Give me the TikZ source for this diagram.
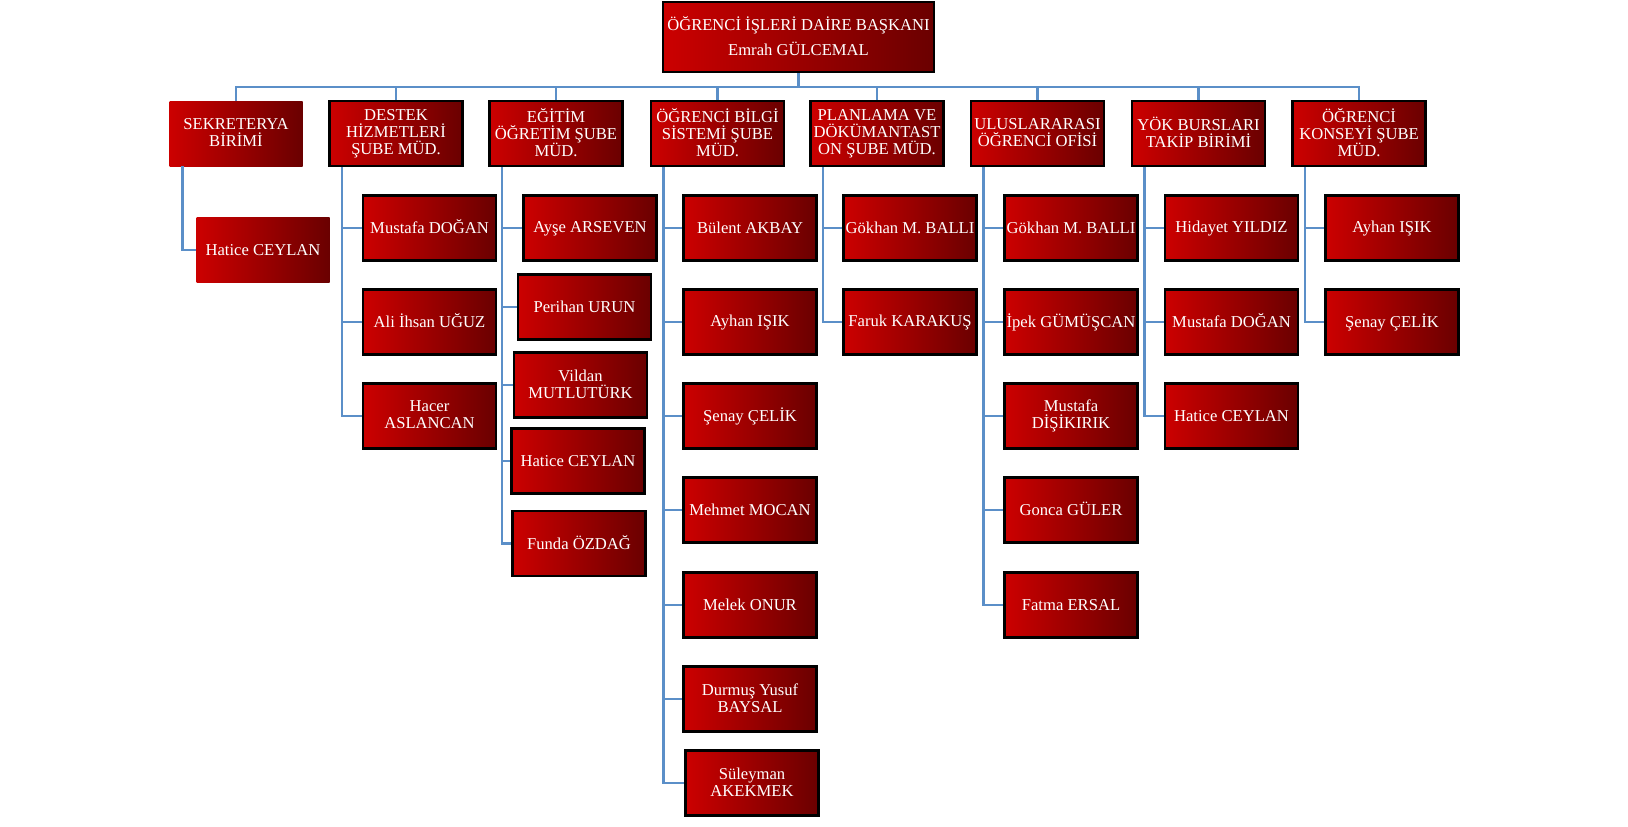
\documentclass[tikz,border=0pt]{standalone}
\usepackage{fontspec}
\setmainfont{Liberation Serif}
\usepackage{tikz}
\pgfdeclarelayer{edgelayer}
\pgfdeclarelayer{nodelayer}
\pgfsetlayers{edgelayer,nodelayer,main}
\definecolor{hexcolor0xcc0000}{rgb}{0.800,0.000,0.000}
\definecolor{hexcolor0x6a0000}{rgb}{0.416,0.000,0.000}
\definecolor{hexcolor0x5b8fc8}{rgb}{0.357,0.561,0.784}
\definecolor{myblack}{rgb}{0.000,0.000,0.000}
\definecolor{mywhite}{rgb}{1.000,1.000,1.000}
\newcommand{\boxstrut}{\rule[-1.4pt]{0pt}{9pt}}
\tikzstyle{plainbox}=[rectangle,left color=hexcolor0xcc0000,right color=hexcolor0x6a0000,text=mywhite,align=center,minimum width=2.66cm,minimum height=1.30cm,inner sep=1pt,font=\fontsize{9.45}{9.7}\selectfont,execute at begin node=\boxstrut,execute at end node=\boxstrut]
\tikzstyle{unit}=[plainbox,draw=myblack,line width=0.05cm]
\tikzstyle{head}=[unit,minimum width=5.42cm,minimum height=1.40cm]
\tikzstyle{link}=[draw=hexcolor0x5b8fc8,line width=0.05cm]

\begin{document}
\begin{tikzpicture}
	\useasboundingbox (0,0) rectangle (32.56,-16.54);
	%\begin{pgfonlayer}{nodelayer}
		\node [style=head] (0) at (15.97,-0.74) {ÖĞRENCİ İŞLERİ DAİRE BAŞKANI\\[4.5pt]Emrah GÜLCEMAL};
		\node [style=plainbox] (1) at (4.72,-2.67) {SEKRETERYA\\BİRİMİ};
		\node [style=unit] (2) at (7.92,-2.67) {DESTEK\\HİZMETLERİ\\ŞUBE MÜD.};
		\node [style=unit] (3) at (11.12,-2.67) {EĞİTİM\\ÖĞRETİM ŞUBE\\MÜD.};
		\node [style=unit] (4) at (14.35,-2.67) {ÖĞRENCİ BİLGİ\\SİSTEMİ ŞUBE\\MÜD.};
		\node [style=unit] (5) at (17.54,-2.67) {PLANLAMA VE\\DÖKÜMANTAST\\ON ŞUBE MÜD.};
		\node [style=unit] (6) at (20.75,-2.67) {ULUSLARARASI\\ÖĞRENCİ OFİSİ};
		\node [style=unit] (7) at (23.97,-2.67) {YÖK BURSLARI\\TAKİP BİRİMİ};
		\node [style=unit] (8) at (27.18,-2.67) {ÖĞRENCİ\\KONSEYİ ŞUBE\\MÜD.};
		\node [style=plainbox] (10) at (5.26,-5.00) {Hatice CEYLAN};
		\node [style=unit] (20) at (8.59,-4.56) {Mustafa DOĞAN};
		\node [style=unit] (21) at (8.59,-6.44) {Ali İhsan UĞUZ};
		\node [style=unit] (22) at (8.59,-8.32) {Hacer\\ASLANCAN};
		\node [style=unit] (30) at (11.80,-4.56) {Ayşe ARSEVEN};
		\node [style=unit] (31) at (11.69,-6.14) {Perihan URUN};
		\node [style=unit] (32) at (11.61,-7.70) {Vildan\\MUTLUTÜRK};
		\node [style=unit] (33) at (11.56,-9.22) {Hatice CEYLAN};
		\node [style=unit] (34) at (11.58,-10.87) {Funda ÖZDAĞ};
		\node [style=unit] (40) at (15.00,-4.56) {Bülent AKBAY};
		\node [style=unit] (41) at (15.00,-6.44) {Ayhan IŞIK};
		\node [style=unit] (42) at (15.00,-8.32) {Şenay ÇELİK};
		\node [style=unit] (43) at (15.00,-10.20) {Mehmet MOCAN};
		\node [style=unit] (44) at (15.00,-12.10) {Melek ONUR};
		\node [style=unit] (45) at (15.00,-13.98) {Durmuş Yusuf\\BAYSAL};
		\node [style=unit] (46) at (15.04,-15.66) {Süleyman\\AKEKMEK};
		\node [style=unit] (50) at (18.20,-4.56) {Gökhan M. BALLI};
		\node [style=unit] (51) at (18.20,-6.44) {Faruk KARAKUŞ};
		\node [style=unit] (60) at (21.42,-4.56) {Gökhan M. BALLI};
		\node [style=unit] (61) at (21.42,-6.44) {İpek GÜMÜŞCAN};
		\node [style=unit] (62) at (21.42,-8.32) {Mustafa\\DİŞİKIRIK};
		\node [style=unit] (63) at (21.42,-10.20) {Gonca GÜLER};
		\node [style=unit] (64) at (21.42,-12.10) {Fatma ERSAL};
		\node [style=unit] (70) at (24.63,-4.56) {Hidayet YILDIZ};
		\node [style=unit] (71) at (24.63,-6.44) {Mustafa DOĞAN};
		\node [style=unit] (72) at (24.63,-8.32) {Hatice CEYLAN};
		\node [style=unit] (80) at (27.84,-4.56) {Ayhan IŞIK};
		\node [style=unit] (81) at (27.84,-6.44) {Şenay ÇELİK};
		\coordinate (bus) at (15.97,-1.74);
	%\end{pgfonlayer}
	%\begin{pgfonlayer}{edgelayer}
		\draw [style=link] (0.south) -- (bus);
		\foreach \i in {1,...,8}
			\draw [style=link] (bus) -| (\i.north);
		\draw [style=link] ([xshift=0.27cm]1.south west) |- (10.west);
		\foreach \i in {20,21,22}
			\draw [style=link] ([xshift=0.27cm]2.south west) |- (\i.west);
		\foreach \i in {30,...,34}
			\draw [style=link] ([xshift=0.27cm]3.south west) |- (\i.west);
		\foreach \i in {40,...,46}
			\draw [style=link] ([xshift=0.27cm]4.south west) |- (\i.west);
		\foreach \i in {50,51}
			\draw [style=link] ([xshift=0.27cm]5.south west) |- (\i.west);
		\foreach \i in {60,...,64}
			\draw [style=link] ([xshift=0.27cm]6.south west) |- (\i.west);
		\foreach \i in {70,71,72}
			\draw [style=link] ([xshift=0.27cm]7.south west) |- (\i.west);
		\foreach \i in {80,81}
			\draw [style=link] ([xshift=0.27cm]8.south west) |- (\i.west);
	%\end{pgfonlayer}
\end{tikzpicture}
\end{document}
